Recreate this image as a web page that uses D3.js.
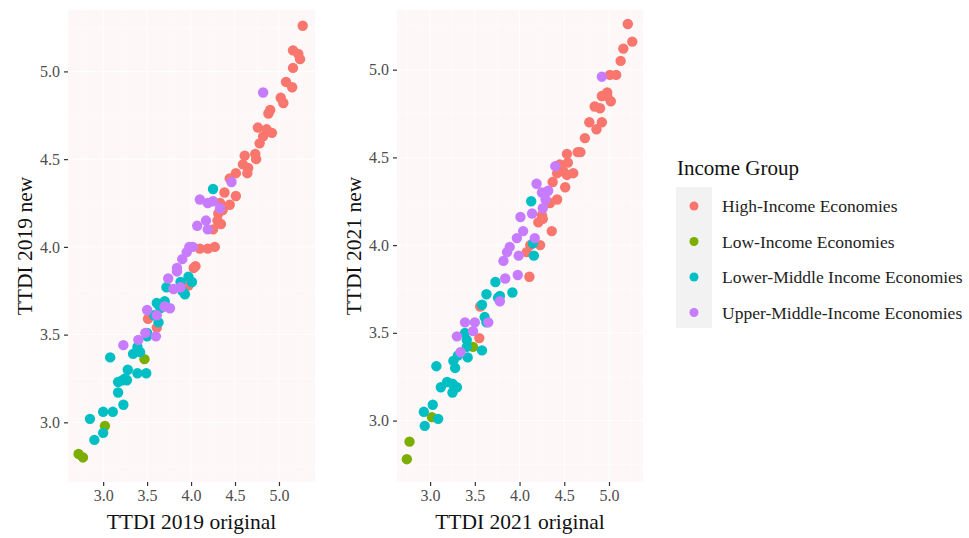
<!DOCTYPE html>
<html>
<head>
<meta charset="utf-8">
<script src="https://cdn.jsdelivr.net/npm/d3@7"></script>
<style>
  body { margin: 0; background: #fff; }
  text { font-family: "Liberation Serif", "Times New Roman", serif; }
</style>
</head>
<body>
<script>
// income groups and their ggplot hue colours
var groups = ["High-Income Economies", "Low-Income Economies",
              "Lower-Middle Income Economies", "Upper-Middle-Income Economies"];
var groupColors = ["#F8766D", "#7CAE00", "#00BFC4", "#C77CFF"];
var ticks = [3.0, 3.5, 4.0, 4.5, 5.0];

// TTDI 2019: [original, new]
var high2019 = [[5.27,5.26],[5.16,5.12],[5.22,5.10],[5.24,5.07],[5.16,5.02],[5.08,4.94],[5.15,4.91],
  [5.02,4.85],[5.05,4.82],[4.90,4.78],[4.88,4.76],[4.76,4.68],[4.86,4.67],[4.92,4.65],[4.82,4.63],
  [4.78,4.59],[4.61,4.52],[4.73,4.53],[4.74,4.50],[4.59,4.47],[4.65,4.45],[4.64,4.42],[4.51,4.42],
  [4.44,4.39],[4.38,4.31],[4.51,4.29],[4.44,4.24],[4.33,4.25],[4.31,4.19],[4.30,4.15],[4.25,4.10],
  [4.10,3.99],[4.19,3.99],[4.27,4.00],[4.05,3.89],[4.03,3.88],[3.97,3.78],[3.51,3.59],[3.61,3.54],
  [4.36,4.21],[4.34,4.13]];
var low2019 = [[3.47,3.36],[3.02,2.98],[2.72,2.82],[2.77,2.80]];
var lowerMid2019 = [[4.25,4.33],[3.97,3.83],[4.01,3.80],[3.72,3.77],[3.93,3.73],[3.88,3.80],[3.90,3.75],
  [3.61,3.68],[3.70,3.69],[3.65,3.65],[3.67,3.66],[3.63,3.57],[3.58,3.61],[3.50,3.49],[3.50,3.51],
  [3.39,3.43],[3.34,3.39],[3.42,3.40],[3.39,3.41],[3.08,3.37],[3.28,3.30],[3.39,3.28],[3.49,3.28],
  [3.22,3.24],[3.27,3.24],[3.17,3.23],[3.25,3.25],[3.17,3.17],[3.23,3.10],[3.00,3.06],[3.11,3.06],
  [2.85,3.02],[3.00,2.94],[2.90,2.90]];
var upperMid2019 = [[4.82,4.88],[4.46,4.37],[4.10,4.27],[4.19,4.25],[4.25,4.26],[4.33,4.22],[4.17,4.15],
  [4.07,4.12],[4.19,4.10],[3.98,4.00],[4.02,4.00],[3.95,3.97],[3.90,3.93],[3.84,3.88],[3.84,3.86],
  [3.74,3.82],[3.80,3.76],[3.88,3.77],[3.76,3.65],[3.50,3.64],[3.61,3.61],[3.48,3.51],[3.60,3.49],
  [3.40,3.47],[3.23,3.44],[3.70,3.66]];

// TTDI 2021: [original, new]
var high2021 = [[5.21,5.26],[5.26,5.16],[5.16,5.12],[5.13,5.05],[5.08,4.97],[5.01,4.97],[4.98,4.87],
  [4.92,4.85],[4.98,4.85],[5.02,4.82],[4.84,4.79],[4.90,4.78],[4.78,4.70],[4.92,4.70],[4.86,4.66],
  [4.73,4.61],[4.65,4.53],[4.68,4.53],[4.53,4.52],[4.54,4.47],[4.45,4.46],[4.49,4.42],[4.60,4.41],
  [4.53,4.40],[4.42,4.41],[4.37,4.36],[4.51,4.33],[4.42,4.26],[4.34,4.24],[4.25,4.17],[4.26,4.15],
  [4.21,4.13],[4.36,4.08],[4.23,4.00],[4.12,4.00],[4.08,3.96],[4.11,3.82],[3.56,3.65],[3.55,3.47]];
var low2021 = [[3.48,3.42],[3.02,3.02],[2.77,2.88],[2.74,2.78]];
var lowerMid2021 = [[4.13,4.25],[4.15,4.01],[4.16,3.94],[3.73,3.79],[3.92,3.73],[3.63,3.72],[3.78,3.71],
  [3.76,3.70],[3.58,3.66],[3.61,3.59],[3.63,3.56],[3.39,3.50],[3.41,3.46],[3.41,3.42],[3.58,3.40],
  [3.31,3.37],[3.42,3.36],[3.26,3.34],[3.28,3.30],[3.07,3.31],[3.12,3.19],[3.19,3.22],[3.25,3.21],
  [3.30,3.19],[3.25,3.16],[3.03,3.09],[2.93,3.05],[3.09,3.01],[2.94,2.97]];
var upperMid2021 = [[4.92,4.96],[4.40,4.45],[4.19,4.35],[4.25,4.30],[4.32,4.31],[4.29,4.26],[4.26,4.21],
  [4.01,4.16],[4.14,4.18],[4.04,4.08],[3.97,4.04],[4.17,4.04],[3.89,3.99],[3.86,3.96],[3.99,3.94],
  [3.82,3.91],[3.98,3.83],[3.84,3.81],[3.78,3.68],[3.39,3.56],[3.50,3.56],[3.65,3.56],[3.48,3.51],
  [3.30,3.48],[3.34,3.39]];

var panels = [
  { series: [high2019, low2019, lowerMid2019, upperMid2019],
    left: 68, right: 315, xDomain: [2.60, 5.41], yDomain: [2.66, 5.35],
    xTitle: "TTDI 2019 original", yTitle: "TTDI 2019 new", yTitleX: 32 },
  { series: [high2021, low2021, lowerMid2021, upperMid2021],
    left: 397, right: 643, xDomain: [2.63, 5.38], yDomain: [2.65, 5.34],
    xTitle: "TTDI 2021 original", yTitle: "TTDI 2021 new", yTitleX: 361 }
];

var width = 969, height = 538;
var plotTop = 10, plotBottom = 482;

var svg = d3.select("body").append("svg")
    .attr("width", width)
    .attr("height", height);

var color = d3.scaleOrdinal().domain(groups).range(groupColors);

panels.forEach(function(p) {
    var x = d3.scaleLinear().domain(p.xDomain).range([p.left, p.right]);
    var y = d3.scaleLinear().domain(p.yDomain).range([plotBottom, plotTop]);

    // panel background
    svg.append("rect")
        .attr("x", p.left).attr("y", plotTop)
        .attr("width", p.right - p.left).attr("height", plotBottom - plotTop)
        .attr("fill", "#fdf7f7");

    // grid lines, minor then major
    var minor = ticks.map(function(t) { return t - 0.25; }).concat([5.25]);
    var g = svg.append("g").attr("stroke", "#ffffff");
    minor.forEach(function(t) {
        if (t > p.xDomain[0] && t < p.xDomain[1])
            g.append("line").attr("x1", x(t)).attr("x2", x(t)).attr("y1", plotTop).attr("y2", plotBottom).attr("stroke-width", 0.5);
        if (t > p.yDomain[0] && t < p.yDomain[1])
            g.append("line").attr("y1", y(t)).attr("y2", y(t)).attr("x1", p.left).attr("x2", p.right).attr("stroke-width", 0.5);
    });
    ticks.forEach(function(t) {
        g.append("line").attr("x1", x(t)).attr("x2", x(t)).attr("y1", plotTop).attr("y2", plotBottom).attr("stroke-width", 1);
        g.append("line").attr("y1", y(t)).attr("y2", y(t)).attr("x1", p.left).attr("x2", p.right).attr("stroke-width", 1);
    });

    // points
    p.series.forEach(function(s, i) {
        svg.append("g").selectAll("circle")
            .data(s)
            .enter()
            .append("circle")
            .attr("cx", function(d) { return x(d[0]); })
            .attr("cy", function(d) { return y(d[1]); })
            .attr("r", 5.2)
            .attr("fill", color(groups[i]));
    });

    // axes
    var xAxis = svg.append("g")
        .attr("transform", "translate(0," + plotBottom + ")")
        .call(d3.axisBottom(x).tickValues(ticks).tickFormat(d3.format(".1f")).tickSize(4).tickPadding(4));
    var yAxis = svg.append("g")
        .attr("transform", "translate(" + p.left + ",0)")
        .call(d3.axisLeft(y).tickValues(ticks).tickFormat(d3.format(".1f")).tickSize(4).tickPadding(4));
    [xAxis, yAxis].forEach(function(a) {
        a.select(".domain").remove();
        a.selectAll(".tick line").attr("stroke", "#333333").attr("stroke-width", 1.2);
        a.selectAll(".tick text")
            .attr("fill", "#4d4d4d")
            .style("font-family", "'Liberation Serif', serif")
            .style("font-size", "16px");
    });

    // axis titles
    svg.append("text")
        .attr("x", (p.left + p.right) / 2)
        .attr("y", 529)
        .style("text-anchor", "middle")
        .style("font-size", "21.5px")
        .attr("fill", "#111")
        .text(p.xTitle);
    svg.append("text")
        .attr("transform", "translate(" + p.yTitleX + "," + ((plotTop + plotBottom) / 2) + ") rotate(-90)")
        .style("text-anchor", "middle")
        .style("font-size", "21.5px")
        .attr("fill", "#111")
        .text(p.yTitle);
});

// legend
var legend = svg.append("g");
legend.append("text")
    .attr("x", 677)
    .attr("y", 175)
    .style("font-size", "21px")
    .attr("fill", "#111")
    .text("Income Group");
legend.append("rect")
    .attr("x", 676).attr("y", 187)
    .attr("width", 36).attr("height", 141)
    .attr("fill", "#f2f2f2");
groups.forEach(function(name, i) {
    var cy = 206 + i * 35.5;
    legend.append("circle")
        .attr("cx", 694).attr("cy", cy).attr("r", 4.5)
        .attr("fill", color(name));
    legend.append("text")
        .attr("x", 722).attr("y", cy + 6)
        .style("font-size", "17.5px")
        .attr("fill", "#222")
        .text(name);
});
</script>
</body>
</html>
